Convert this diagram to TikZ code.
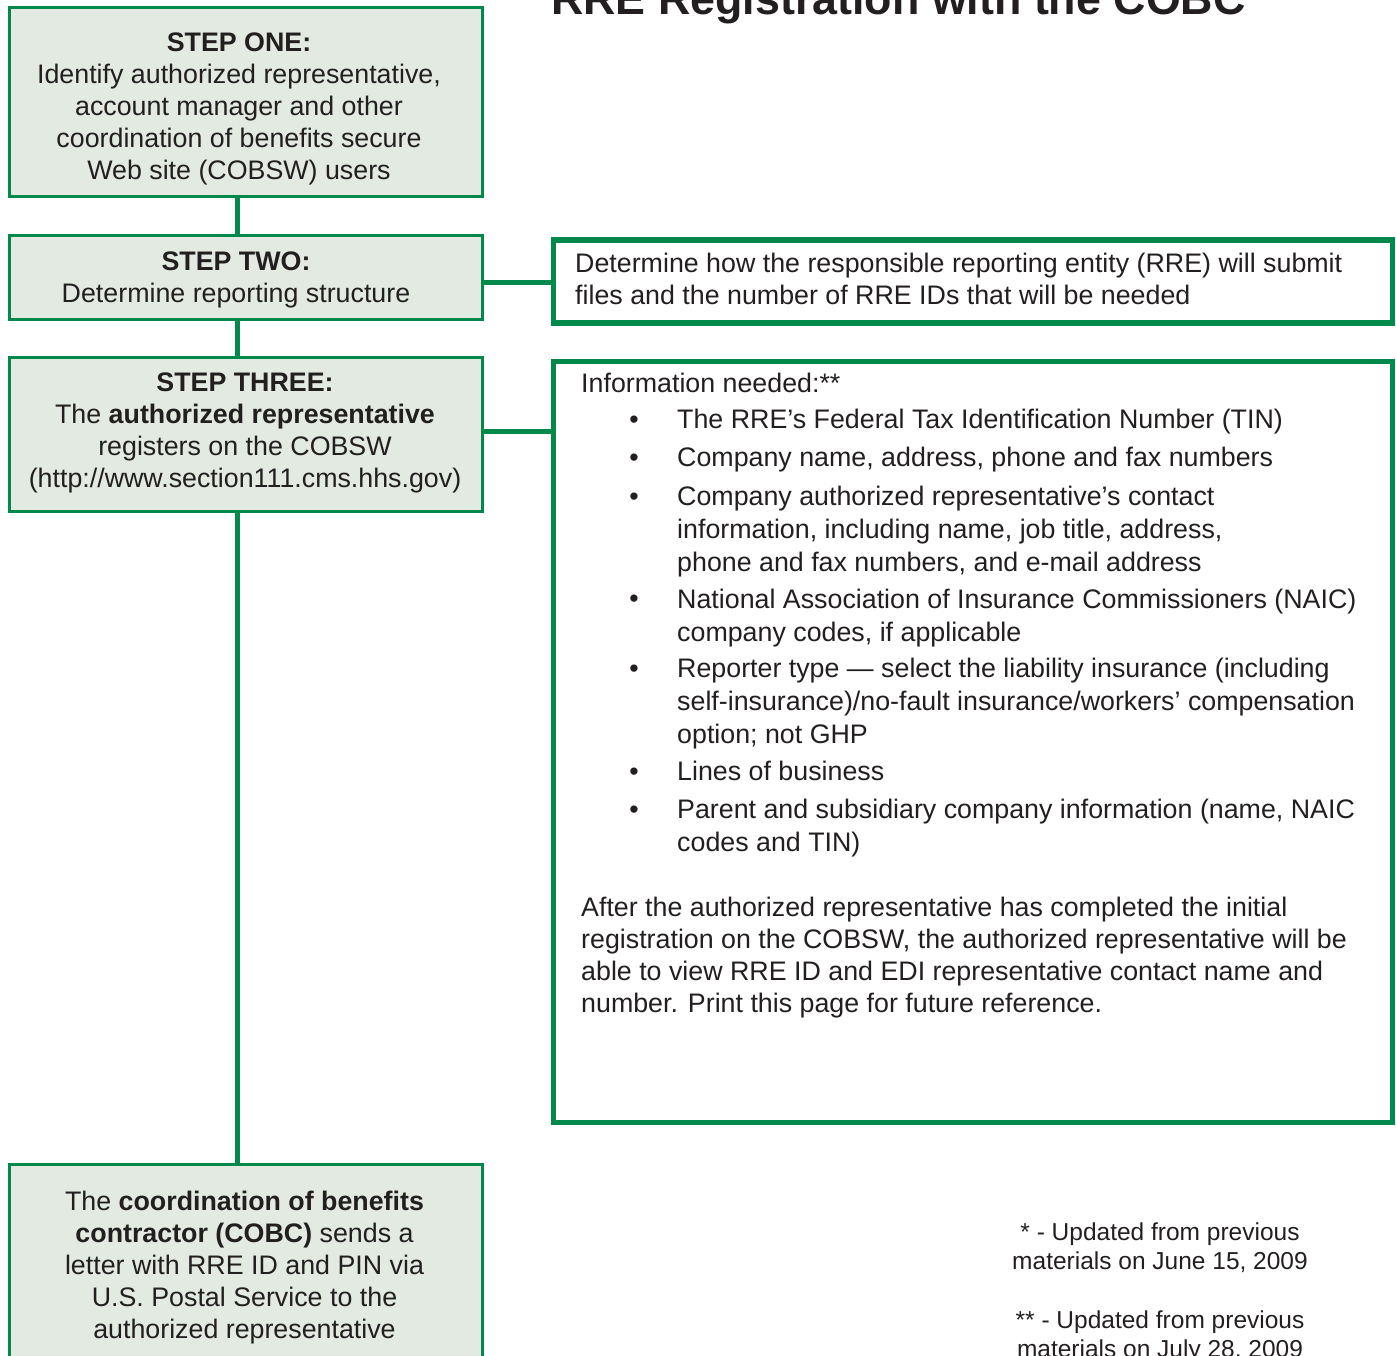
\documentclass[tikz,border=0pt]{standalone}
\usepackage{fontspec}
\setmainfont{Liberation Sans}
\definecolor{cgreen}{HTML}{00894B}
\definecolor{cfill}{HTML}{E2EAE1}
\definecolor{cdark}{HTML}{231F20}
\begin{document}
\begin{tikzpicture}[x=1pt,y=-1pt,
  lbox/.style={draw=cgreen, fill=cfill, line width=3pt, inner sep=0pt, minimum width=473pt},
  rbox/.style={draw=cgreen, fill=white, line width=5.5pt, inner sep=0pt, minimum width=839pt},
  link/.style={draw=cgreen, line width=4.7pt},
  txt/.style={font=\fontsize{26.8}{32}\selectfont, text=cdark, inner sep=0pt},
  itm/.style={font=\fontsize{26.8}{33}\selectfont, text=cdark, inner sep=0pt, align=left, anchor=base west},
  bul/.style={font=\fontsize{26.8}{32}\selectfont, text=cdark, inner sep=0pt, anchor=base},
  note/.style={font=\fontsize{24.5}{29}\selectfont, text=cdark, inner sep=0pt, align=center, anchor=base}]
\useasboundingbox (0,0) rectangle (1396,1355);

% title
\node[font=\fontsize{44.8}{50}\selectfont\bfseries, text=cdark, inner sep=0pt, anchor=base west] (title) at (551,14) {RRE Registration with the COBC};

% left boxes
\node[lbox, minimum height=188.5pt] (s1) at (246,101.75) {};
\node[lbox, minimum height=84pt] (s2) at (246,277.5) {};
\node[lbox, minimum height=153.5pt] (s3) at (246,434.25) {};
\node[lbox, minimum height=236pt] (s4) at (246,1282) {};

% right boxes
\node[rbox, minimum height=83pt] (r2) at (973,281.5) {};
\node[rbox, minimum height=761pt] (r3) at (973,742) {};

% connectors
\coordinate (spine) at (237.5,0);
\coordinate (h2) at (0,282.5);
\coordinate (h3) at (0,431.5);
\draw[link] (s1.south -| spine) -- (s2.north -| spine);
\draw[link] (s2.south -| spine) -- (s3.north -| spine);
\draw[link] (s3.south -| spine) -- (s4.north -| spine);
\draw[link] (s2.east |- h2) -- (r2.west |- h2);
\draw[link] (s3.east |- h3) -- (r3.west |- h3);

% left box texts (anchor = baseline of last line)
\node[txt, align=center, anchor=base] (t1) at (239,179) {\textbf{STEP ONE:}\\Identify authorized representative,\\account manager and other\\coordination of benefits secure\\Web site (COBSW) users};
\node[txt, align=center, anchor=base] (t2) at (236,302) {\textbf{STEP TWO:}\\Determine reporting structure};
\node[txt, align=center, anchor=base] (t3) at (245,487) {\textbf{STEP THREE:}\\The \textbf{authorized representative}\\registers on the COBSW\\(http://www.section111.cms.hhs.gov)};
\node[txt, align=center, anchor=base] (t4) at (244.5,1338) {The \textbf{coordination of benefits}\\\textbf{contractor (COBC)} sends a\\letter with RRE ID and PIN via\\U.S. Postal Service to the\\authorized representative};

% right box 2 text
\node[txt, align=left, anchor=base west] (tr2) at (575,304) {Determine how the responsible reporting entity (RRE) will submit\\files and the number of RRE IDs that will be needed};

% right box 3 text
\node[txt, anchor=base west] (info) at (581,392) {Information needed:**};
\node[bul] (b1) at (634,428) {\textbullet};
\node[itm] (i1) at (677,428) {The RRE’s Federal Tax Identification Number (TIN)};
\node[bul] (b2) at (634,466) {\textbullet};
\node[itm] (i2) at (677,466) {Company name, address, phone and fax numbers};
\node[bul] (b3) at (634,505) {\textbullet};
\node[itm] (i3) at (677,571) {Company authorized representative’s contact\\information, including name, job title, address,\\phone and fax numbers, and e-mail address};
\node[bul] (b4) at (634,607) {\textbullet};
\node[itm] (i4) at (677,641) {National Association of Insurance Commissioners (NAIC)\\company codes, if applicable};
\node[bul] (b5) at (634,677) {\textbullet};
\node[itm] (i5) at (677,743) {Reporter type — select the liability insurance (including\\self-insurance)/no-fault insurance/workers’ compensation\\option; not GHP};
\node[bul] (b6) at (634,780) {\textbullet};
\node[itm] (i6) at (677,780) {Lines of business};
\node[bul] (b7) at (634,818) {\textbullet};
\node[itm] (i7) at (677,851) {Parent and subsidiary company information (name, NAIC\\codes and TIN)};
\node[txt, align=left, anchor=base west] (para) at (581,1012) {After the authorized representative has completed the initial\\registration on the COBSW, the authorized representative will be\\able to view RRE ID and EDI representative contact name and\\number. Print this page for future reference.};

% footnotes
\node[note] (n1) at (1160,1269) {* - Updated from previous\\materials on June 15, 2009};
\node[note] (n2) at (1160,1357) {** - Updated from previous\\materials on July 28, 2009};
\end{tikzpicture}
\end{document}
